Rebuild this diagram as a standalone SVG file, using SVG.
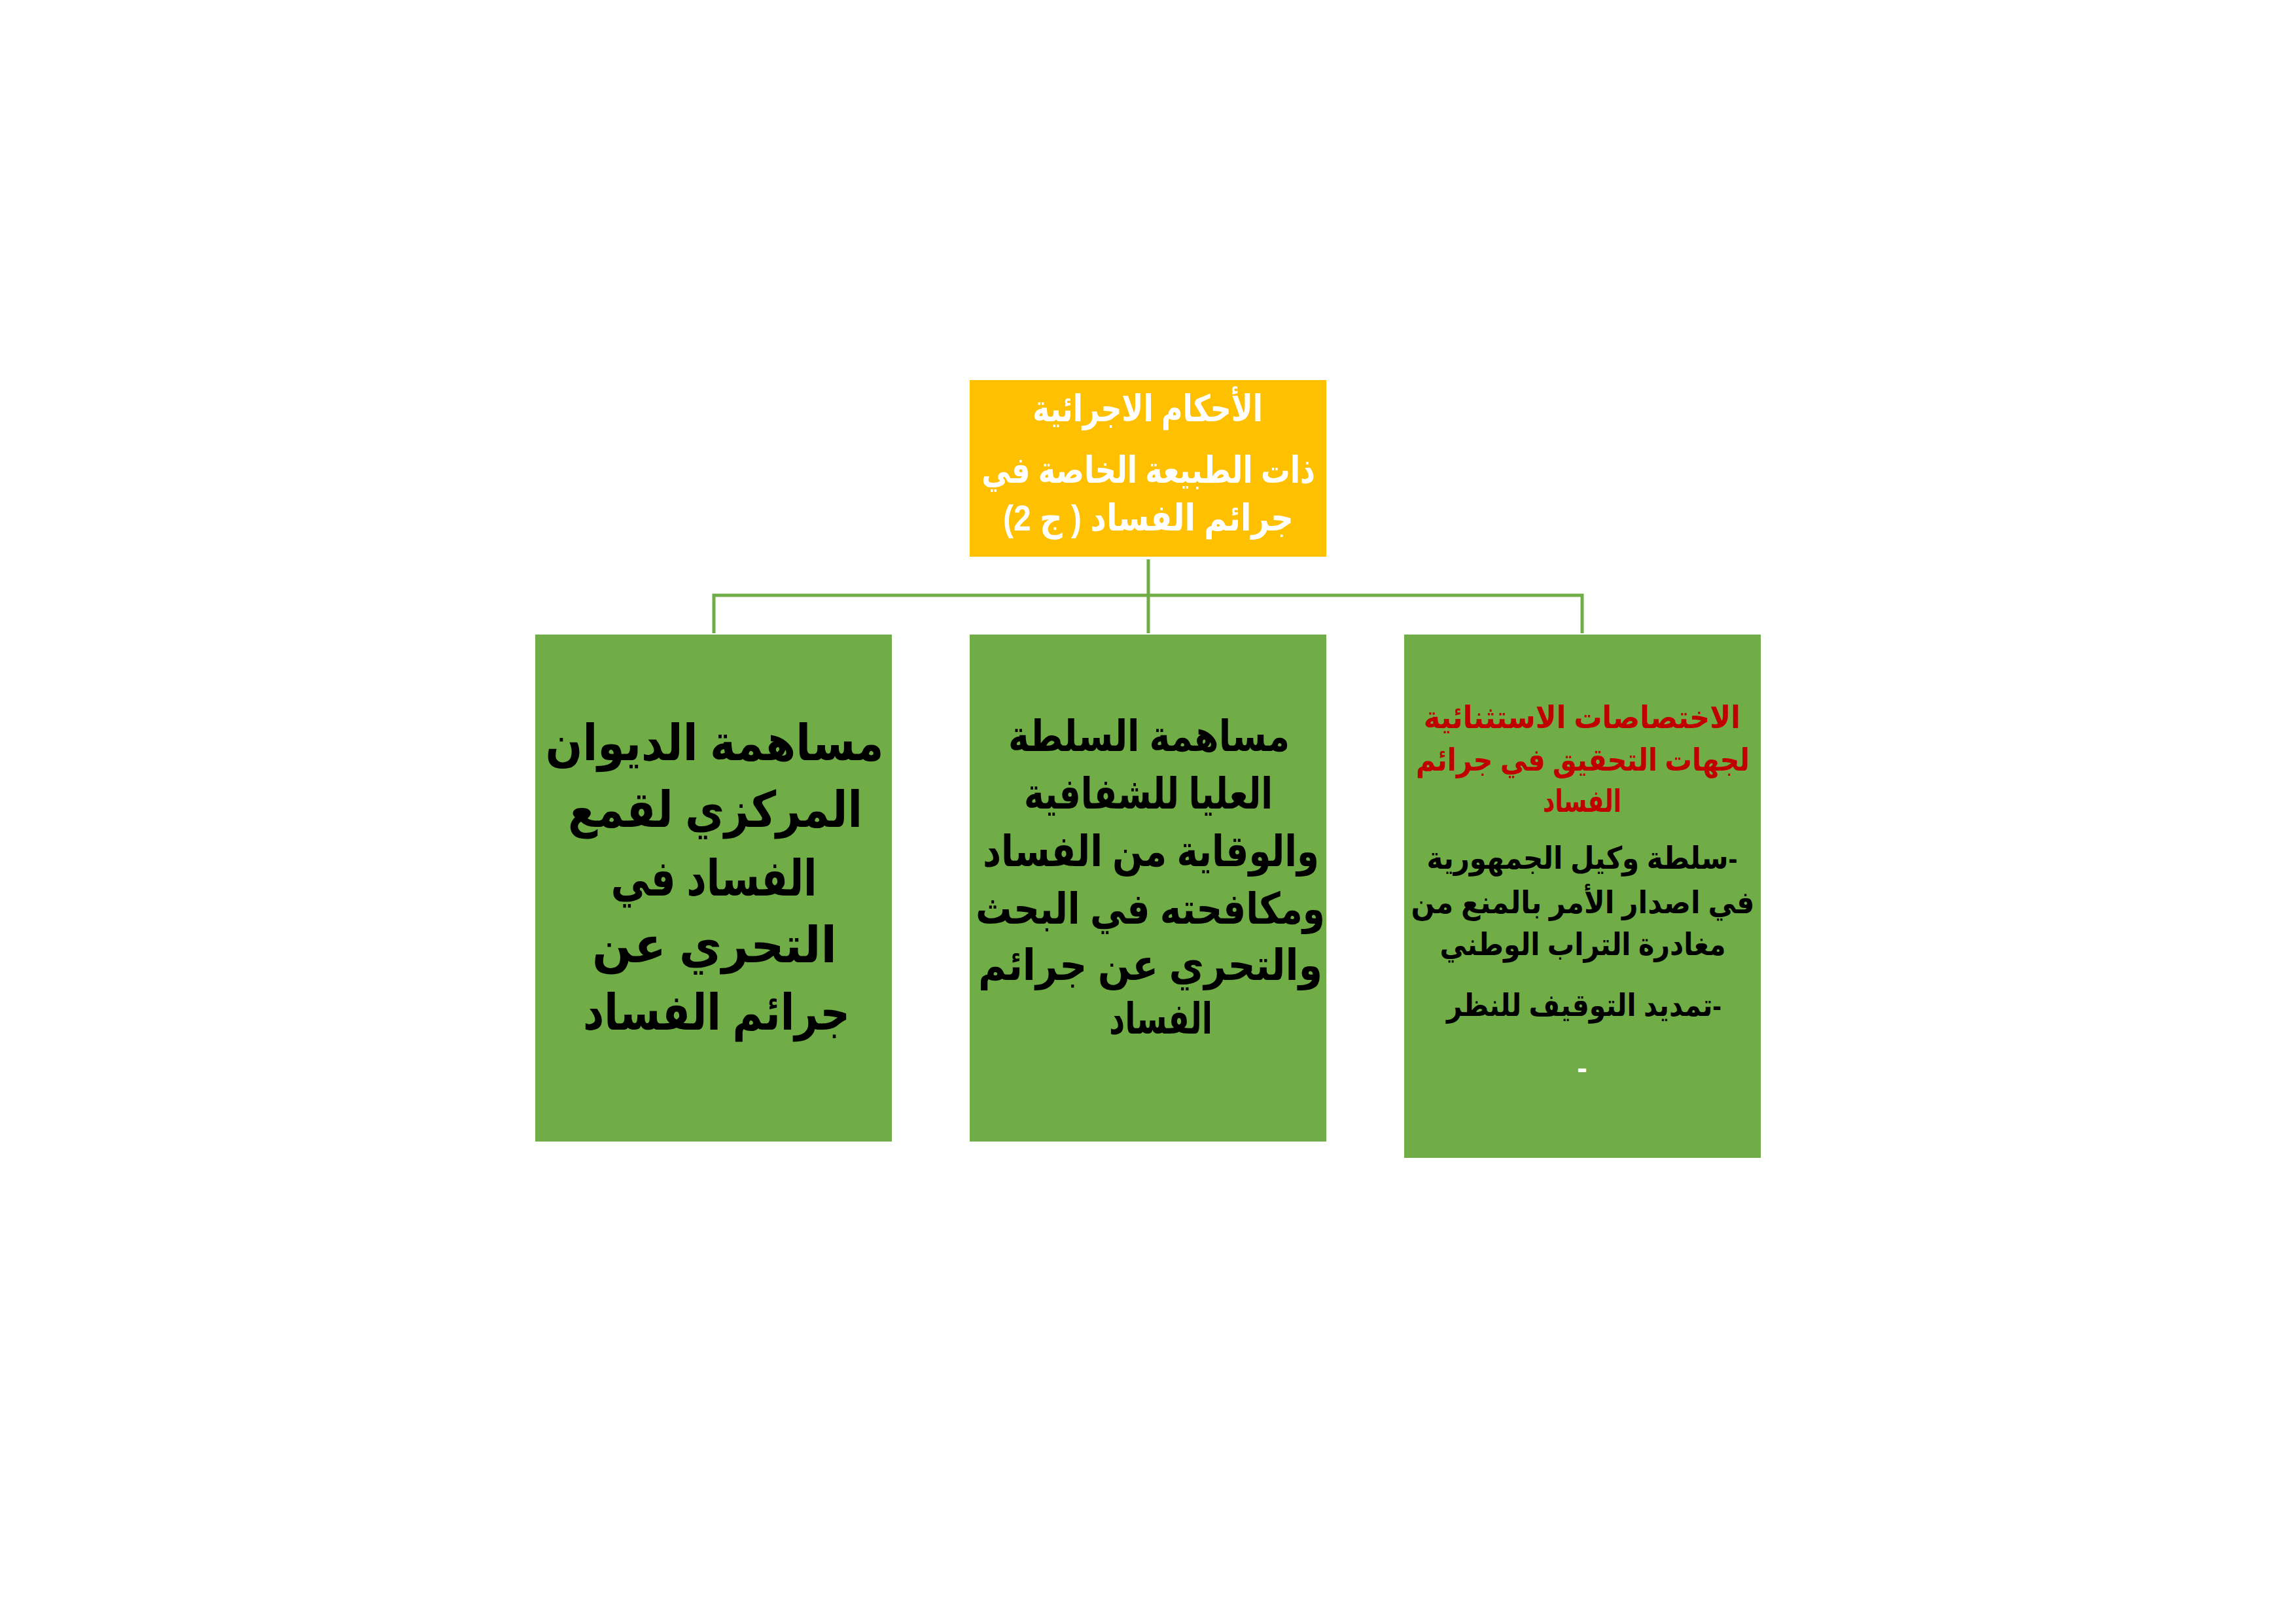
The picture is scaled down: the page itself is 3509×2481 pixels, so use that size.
<svg xmlns="http://www.w3.org/2000/svg" width="3509" height="2481" viewBox="0 0 3509 2481">
<style>
.box-top{fill:#FFC000}
.box{fill:#70AD47}
.conn{stroke:#70AD47;stroke-width:5;fill:none}
text{font-family:"Liberation Sans","DejaVu Sans",sans-serif;font-weight:bold;text-anchor:middle;direction:rtl;unicode-bidi:embed}
.t-top{fill:#FFFFFF;font-size:56px}
.t-big{fill:#000000;font-size:76px}
.t-mid{fill:#000000;font-size:66px}
.t-red{fill:#C00000;font-size:47px}
.t-blk{fill:#000000;font-size:47px}
.t-wht{fill:#FFFFFF;font-size:47px}
</style>
<rect width="3509" height="2481" fill="#FFFFFF"/>
<g id="connectors">
<path class="conn" d="M1755 855 V968"/>
<path class="conn" d="M1091 968 V910 H2418 V968"/>
</g>
<g id="node-top">
<rect class="box-top" x="1482" y="581" width="545" height="270"/>
<text class="t-top" x="1754" y="644" textLength="352" lengthAdjust="spacingAndGlyphs">الأحكام الاجرائية</text>
<text class="t-top" x="1755" y="738" textLength="510" lengthAdjust="spacingAndGlyphs">ذات الطبيعة الخاصة في</text>
<text class="t-top" x="1755" y="811" textLength="444" lengthAdjust="spacingAndGlyphs">جرائم الفساد ( ج 2)</text>
</g>
<g id="node-left">
<rect class="box" x="818" y="970" width="545" height="775"/>
<text class="t-big" x="1092" y="1162" textLength="517" lengthAdjust="spacingAndGlyphs">مساهمة الديوان</text>
<text class="t-big" x="1093" y="1264" textLength="450" lengthAdjust="spacingAndGlyphs">المركزي لقمع</text>
<text class="t-big" x="1091" y="1369" textLength="315" lengthAdjust="spacingAndGlyphs">الفساد في</text>
<text class="t-big" x="1092" y="1471" textLength="374" lengthAdjust="spacingAndGlyphs">التحري عن</text>
<text class="t-big" x="1095" y="1574" textLength="408" lengthAdjust="spacingAndGlyphs">جرائم الفساد</text>
</g>
<g id="node-middle">
<rect class="box" x="1482" y="970" width="545" height="775"/>
<text class="t-mid" x="1756" y="1148" textLength="430" lengthAdjust="spacingAndGlyphs">مساهمة السلطة</text>
<text class="t-mid" x="1755" y="1236" textLength="380" lengthAdjust="spacingAndGlyphs">العليا للشفافية</text>
<text class="t-mid" x="1759" y="1324" textLength="514" lengthAdjust="spacingAndGlyphs">والوقاية من الفساد</text>
<text class="t-mid" x="1758" y="1412" textLength="534" lengthAdjust="spacingAndGlyphs">ومكافحته في البحث</text>
<text class="t-mid" x="1758" y="1498" textLength="526" lengthAdjust="spacingAndGlyphs">والتحري عن جرائم</text>
<text class="t-mid" x="1774" y="1580" textLength="158" lengthAdjust="spacingAndGlyphs">الفساد</text>
</g>
<g id="node-right">
<rect class="box" x="2146" y="970" width="545" height="800"/>
<text class="t-red" x="2418" y="1113" textLength="484" lengthAdjust="spacingAndGlyphs">الاختصاصات الاستثنائية</text>
<text class="t-red" x="2419" y="1178" textLength="510" lengthAdjust="spacingAndGlyphs">لجهات التحقيق في جرائم</text>
<text class="t-red" x="2418" y="1241" textLength="120" lengthAdjust="spacingAndGlyphs">الفساد</text>
<text class="t-blk" x="2418" y="1328" textLength="475" lengthAdjust="spacingAndGlyphs">-سلطة وكيل الجمهورية</text>
<text class="t-blk" x="2419" y="1396" textLength="525" lengthAdjust="spacingAndGlyphs">في اصدار الأمر بالمنع من</text>
<text class="t-blk" x="2419" y="1460" textLength="437" lengthAdjust="spacingAndGlyphs">مغادرة التراب الوطني</text>
<text class="t-blk" x="2421" y="1553" textLength="420" lengthAdjust="spacingAndGlyphs">-تمديد التوقيف للنظر</text>
<text class="t-wht" x="2418" y="1648">-</text>
</g>
</svg>
